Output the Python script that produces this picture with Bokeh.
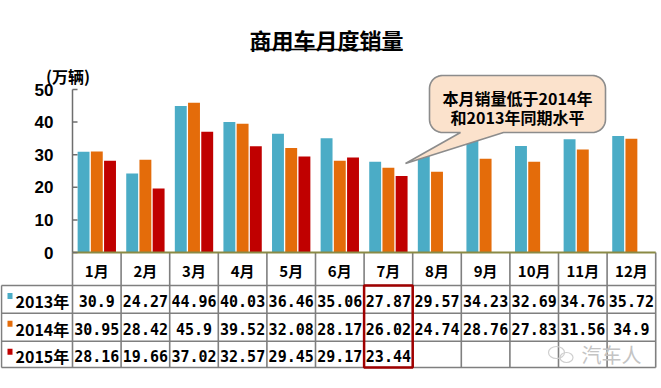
import math
from bokeh.plotting import figure
from bokeh.models import ColumnDataSource, Range1d
from bokeh.transform import dodge
from bokeh.core.properties import value
from bokeh.embed import file_html
from bokeh.resources import INLINE

# ---------------- data ----------------
title_text = "商用车月度销量"
unit_text = "(万辆)"
months = ["1月", "2月", "3月", "4月", "5月", "6月", "7月", "8月", "9月", "10月", "11月", "12月"]
series_names = ["2013年", "2014年", "2015年"]
s2013 = [30.9, 24.27, 44.96, 40.03, 36.46, 35.06, 27.87, 29.57, 34.23, 32.69, 34.76, 35.72]
s2014 = [30.95, 28.42, 45.9, 39.52, 32.08, 28.17, 26.02, 24.74, 28.76, 27.83, 31.56, 34.9]
s2015 = [28.16, 19.66, 37.02, 32.57, 29.45, 29.17, 23.44, None, None, None, None, None]
y_ticks = [0, 10, 20, 30, 40, 50]
callout_lines = ["本月销量低于2014年", "和2013年同期水平"]
highlight_month = "7月"
watermark = "汽车人"
colors = ["#4BACC6", "#E46C0A", "#C00000"]

# ---------------- layout ----------------
W, H = 661, 388
CW = 48.6           # px per month category
LEFT = 72           # px where the plot area starts
PPU = 3.26          # px per unit (万辆)
ZERO_Y = 252        # px (from top) of value 0


def dx(px):
    return (px - LEFT) / CW


def dy(py):
    return (ZERO_Y - py) / PPU


p = figure(width=W, height=H,
           x_range=Range1d(dx(0), dx(W)), y_range=Range1d(dy(H), dy(0)),
           output_backend="svg", toolbar_location=None,
           x_axis_type=None, y_axis_type=None, min_border=0,
           outline_line_color=None)
p.grid.visible = False
p.background_fill_color = "white"
p.border_fill_color = "white"

CJK = "Noto Sans CJK SC"


def txt(xs, ys, texts, size, font=CJK, align="center", color="black",
        style="bold", baseline="middle"):
    p.text(x=xs, y=ys, text=texts, text_font=value(font), text_font_size=size,
           text_font_style=style, text_align=align, text_baseline=baseline,
           text_color=color)


n = len(months)
xc = [i + 0.5 for i in range(n)]

# ---------------- table grid ----------------
row_edges = [252, 285, 312.7, 340.7, 367]   # px of table row boundaries
tbl_left = dx(1)
tbl_right = float(n)
grid_col = "#7F7F7F"
for yy in row_edges[1:]:
    p.segment(x0=[tbl_left], y0=[dy(yy)], x1=[tbl_right], y1=[dy(yy)],
              line_color=grid_col, line_width=1.6)
p.segment(x0=[tbl_left], y0=[dy(row_edges[1])], x1=[tbl_left], y1=[dy(row_edges[-1])],
          line_color=grid_col, line_width=1.6)
p.segment(x0=list(range(n + 1)), y0=[0] * (n + 1), x1=list(range(n + 1)),
          y1=[dy(row_edges[-1])] * (n + 1), line_color=grid_col, line_width=1.6)

# ---------------- bars ----------------
src = ColumnDataSource(dict(
    x=xc,
    s2013=s2013,
    s2014=s2014,
    s2015=[float("nan") if v is None else v for v in s2015],
))
offsets = [-0.272, 0.0, 0.272]
for k, col in enumerate(["s2013", "s2014", "s2015"]):
    p.vbar(x=dodge("x", offsets[k], range=p.x_range), top=col, width=0.245,
           source=src, fill_color=colors[k], line_color=None)

# ---------------- axes ----------------
p.segment(x0=[0], y0=[0], x1=[tbl_right], y1=[0], line_color="#8A8A45", line_width=2.2)
p.segment(x0=[0], y0=[0], x1=[0], y1=[max(y_ticks)], line_color="#6E6E6E", line_width=1.5)
p.segment(x0=[0] * len(y_ticks), y0=y_ticks, x1=[dx(77)] * len(y_ticks), y1=y_ticks,
          line_color="#6E6E6E", line_width=1.5)
txt([dx(53)] * len(y_ticks), y_ticks, [str(t) for t in y_ticks], "17px",
    font="Liberation Sans", align="right")
txt([dx(67.5)], [dy(75)], [unit_text], "16px")

# ---------------- title ----------------
txt([dx(326)], [dy(38)], [title_text], "22px")
p.segment(x0=[dx(250)], y0=[dy(49)], x1=[dx(402)], y1=[dy(49)], line_color="black",
          line_width=1.5)

# ---------------- table text ----------------
hdr_y = (row_edges[0] + row_edges[1]) / 2
txt(xc, [dy(hdr_y + 1)] * n, months, "15px")

series_vals = [s2013, s2014, s2015]
for k, vals in enumerate(series_vals):
    top, bot = row_edges[k + 1], row_edges[k + 2]
    cy = (top + bot) / 2 + 1.5
    xs = [xc[i] for i, v in enumerate(vals) if v is not None]
    ts = [f"{v:g}" for v in vals if v is not None]
    txt(xs, [dy(cy)] * len(xs), ts, "15px", font="DejaVu Sans Mono")
    p.quad(left=[dx(7)], right=[dx(12)], top=[dy(top + 7.5)], bottom=[dy(top + 13.5)],
           fill_color=colors[k], line_color=None)
    txt([dx(15)], [dy(cy)], [series_names[k]], "16px", align="left")

hi = months.index(highlight_month)
p.quad(left=[hi], right=[hi + 1], top=[dy(row_edges[1])], bottom=[dy(row_edges[-1])],
       fill_color=None, line_color="#A00000", line_width=2.5)

# ---------------- callout ----------------
x0, y0, x1, y1, r = 429, 75, 605, 132, 13
base_l, base_r, tip = 460, 503, (405, 163)
pts = []


def arc(cx, cy, a0, a1, steps=10):
    for s in range(steps + 1):
        a = math.radians(a0 + (a1 - a0) * s / steps)
        pts.append((cx + r * math.cos(a), cy + r * math.sin(a)))


arc(x1 - r, y0 + r, -90, 0)
arc(x1 - r, y1 - r, 0, 90)
pts.append((base_r, y1))
pts.append(tip)
pts.append((base_l, y1))
arc(x0 + r, y1 - r, 90, 180)
arc(x0 + r, y0 + r, 180, 270)
p.patch(x=[dx(a) for a, b in pts], y=[dy(b) for a, b in pts],
        fill_color="#FBE2CC", line_color="#8C8C8C", line_width=1.6)
txt([dx(517)] * 2, [dy(97), dy(116)], callout_lines, "16px")

# ---------------- watermark ----------------
p.ellipse(x=[dx(556), dx(566)], y=[dy(352), dy(357)], width=[16 / CW, 13 / CW],
          height=[12 / PPU, 10 / PPU], fill_color=None, line_color="#CFCFCF",
          line_width=1.2)
txt([dx(611)], [dy(354)], [watermark], "20px", color="#C4C4C4", style="normal")

open("out.html", "w").write(file_html(p, INLINE))
